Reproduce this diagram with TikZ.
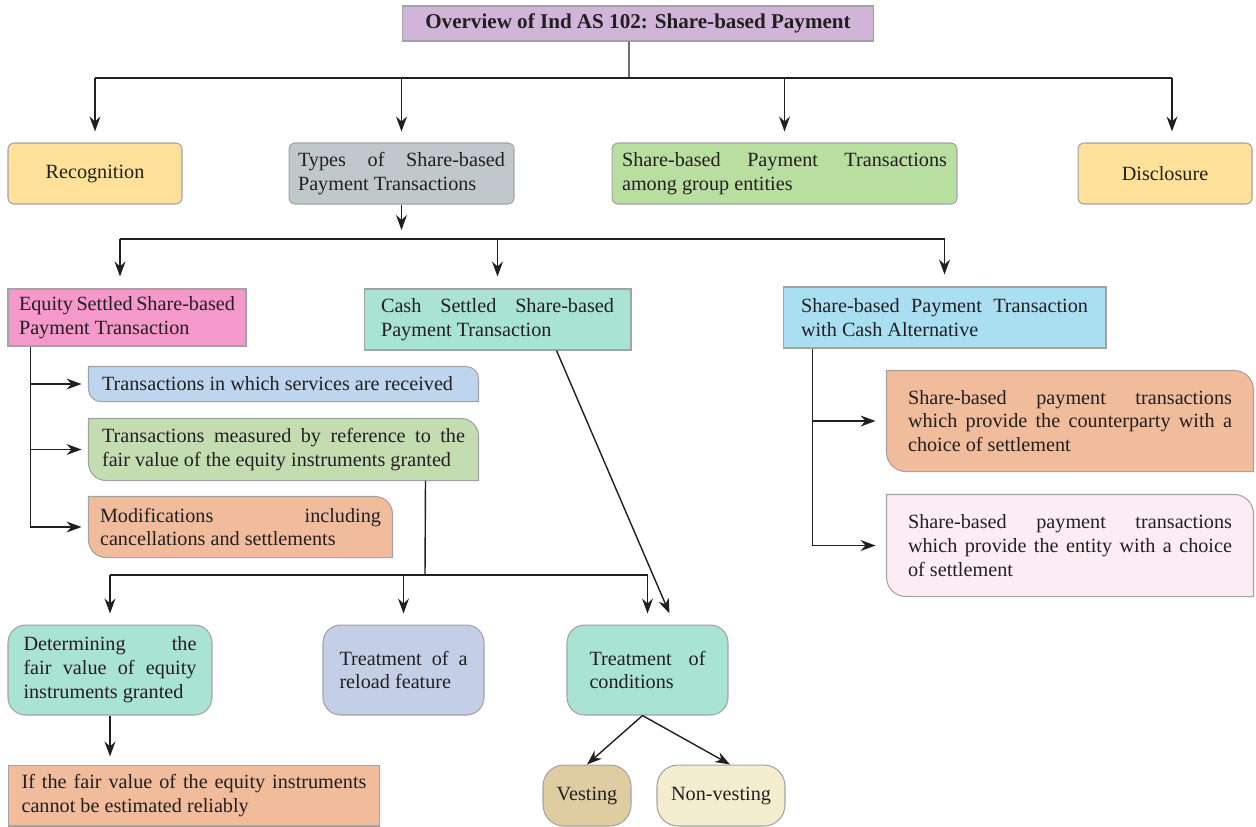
\documentclass[tikz,border=0pt]{standalone}
\usepackage{fontspec}
\setmainfont{Liberation Serif}
\usepackage{xcolor}
\usepackage{tikz}
\usetikzlibrary{arrows.meta,positioning,calc,backgrounds}
\definecolor{inkGray}{HTML}{231F20}
\definecolor{edgeGray}{HTML}{A3A3A3}
\definecolor{titleLilac}{HTML}{D1B5D8}
\definecolor{sandYellow}{HTML}{FFE199}
\definecolor{slateGray}{HTML}{C1C8CC}
\definecolor{leafGreen}{HTML}{B9DFA0}
\definecolor{rosePink}{HTML}{F598CB}
\definecolor{mintTeal}{HTML}{A9E3D4}
\definecolor{skyBlue}{HTML}{A9DFF0}
\definecolor{svcBlue}{HTML}{BDD5EE}
\definecolor{measGreen}{HTML}{C3DDB0}
\definecolor{peach}{HTML}{F0BC9C}
\definecolor{blushPink}{HTML}{FBEDF3}
\definecolor{lavBlue}{HTML}{C4CFE7}
\definecolor{tanBrown}{HTML}{DFCCA0}
\definecolor{creamYellow}{HTML}{F4EDCF}
\newcommand{\boxfont}{\fontsize{11.5}{13.6}\selectfont}
\newcommand{\halfround}[3]{%
  \draw[draw=edgeGray, line width=0.6pt, fill=#2] (#1.north west) -- ([xshift=-#3]#1.north east)
    arc[start angle=90, end angle=0, radius=#3] -- (#1.south east) -- ([xshift=#3]#1.south west)
    arc[start angle=270, end angle=180, radius=#3] -- cycle;}
\tolerance=9999
\hyphenpenalty=10000
\emergencystretch=2em

\begin{document}
\begin{tikzpicture}[x=0.02cm, y=-0.02cm, >={Stealth[length=8.5pt,width=6.2pt]},
  box/.style={draw=edgeGray, line width=0.6pt, text=inkGray, font=\boxfont, inner ysep=0pt, align=justify},
  halfbox/.style={box, draw=none},
  line/.style={draw=inkGray, line width=0.8pt},
  arr/.style={line, ->}]
\useasboundingbox (0,0) rectangle (1256,826);
% --- title and first level ---
\node[box, fill=titleLilac, minimum width=9.44cm, minimum height=0.7cm, font=\fontsize{12}{14}\selectfont\bfseries, align=center] (title) at (638,23.5) {Overview of Ind AS 102: Share-based Payment};
\node[box, rounded corners=3.5pt, fill=sandYellow, minimum width=3.48cm, minimum height=1.22cm, align=center] (recog) at (95,173.5) {Recognition};
\node[box, rounded corners=3.5pt, fill=slateGray, text width=4.14cm, inner xsep=0.18cm, minimum height=1.22cm] (types) at (401.5,173.5) {Types of Share-based\linebreak Payment Transactions};
\node[box, rounded corners=3.5pt, fill=leafGreen, text width=6.5cm, inner xsep=0.2cm, minimum height=1.22cm] (group) at (784.5,173.5) {Share-based Payment Transactions\linebreak among group entities};
\node[box, rounded corners=3.5pt, fill=sandYellow, minimum width=3.48cm, minimum height=1.22cm, align=center] (discl) at (1165,173.5) {Disclosure};
% --- types of transactions ---
\node[box, fill=rosePink, text width=4.32cm, inner xsep=0.22cm, minimum height=1.14cm] (equity) at (127,317.5) {Equity Settled Share-based\linebreak Payment Transaction};
\node[box, fill=mintTeal, text width=4.66cm, inner xsep=0.34cm, minimum height=1.22cm] (cash) at (497.5,319.5) {Cash Settled Share-based\linebreak Payment Transaction};
\node[box, fill=skyBlue, text width=5.74cm, inner xsep=0.36cm, minimum height=1.22cm] (cashalt) at (944.5,317.5) {Share-based Payment Transaction\linebreak with Cash Alternative};
% --- equity settled items ---
\node[halfbox, text width=7.26cm, inner xsep=0.26cm, minimum height=0.68cm] (svc) at (283.5,384) {Transactions in which services are received};
\node[halfbox, text width=7.26cm, inner xsep=0.26cm, minimum height=1.22cm] (meas) at (283.5,449.5) {Transactions measured by reference to the\linebreak fair value of the equity instruments granted};
\node[halfbox, text width=5.62cm, inner xsep=0.22cm, minimum height=1.2cm] (modif) at (240.5,527) {Modifications including\linebreak cancellations and settlements};
% --- cash alternative items ---
\node[halfbox, text width=6.48cm, inner xsep=0.42cm, minimum height=2.0cm] (cparty) at (1070,421) {Share-based payment transactions\linebreak which provide the counterparty with a\linebreak choice of settlement};
\node[halfbox, text width=6.48cm, inner xsep=0.42cm, minimum height=2.02cm] (entity) at (1070,545.5) {Share-based payment transactions\linebreak which provide the entity with a choice\linebreak of settlement};
% --- measurement ---
\node[box, rounded corners=10pt, fill=mintTeal, text width=3.46cm, inner xsep=0.31cm, minimum height=1.8cm] (fairval) at (110,670) {Determining the\linebreak fair value of equity\linebreak instruments granted};
\node[box, rounded corners=10pt, fill=lavBlue, text width=2.56cm, inner xsep=0.33cm, minimum height=1.8cm] (reload) at (403.5,670) {Treatment of a\linebreak reload feature};
\node[box, rounded corners=10pt, fill=mintTeal, text width=2.32cm, inner xsep=0.45cm, minimum height=1.8cm] (cond) at (647.5,670) {Treatment of\linebreak conditions};
\node[box, fill=peach, text width=6.9cm, inner xsep=0.27cm, minimum height=1.22cm] (unrel) at (194,795.5) {If the fair value of the equity instruments\linebreak cannot be estimated reliably};
\node[box, rounded corners=12pt, fill=tanBrown, minimum width=1.76cm, minimum height=1.22cm, align=center] (vest) at (587,795.5) {Vesting};
\node[box, rounded corners=12pt, fill=creamYellow, minimum width=2.56cm, minimum height=1.22cm, align=center] (nonvest) at (721,795.5) {Non-vesting};
% half rounded boxes
\begin{scope}[on background layer]
  \halfround{svc}{svcBlue}{7pt}
  \halfround{meas}{measGreen}{10pt}
  \halfround{modif}{peach}{10pt}
  \halfround{cparty}{peach}{11pt}
  \halfround{entity}{blushPink}{11pt}
\end{scope}
% --- connectors: top level ---
\coordinate (topbus) at (629,78);
\draw[line] ([xshift=-0.18cm]title.south) -- (topbus);
\draw[line, line width=1.1pt] (recog.north |- topbus) -- ($(discl.north |- topbus)+(7,0)$);
\foreach \n/\dx in {recog/0, types/0, group/0, discl/7}
  \draw[arr, shorten >=0.22cm] ($(\n.north |- topbus)+(\dx,0)$) -- ($(\n.north)+(\dx,0)$);
% types of transactions
\coordinate (typebus) at (401.5,239);
\draw[arr, shorten >=0.18cm] (types.south) -- (typebus);
\draw[line, line width=1.1pt] ($(equity.north |- typebus)+(-7,0)$) -- (cashalt.north |- typebus);
\foreach \n/\dx in {equity/-7, cash/0, cashalt/0}
  \draw[arr, shorten >=0.24cm] ($(\n.north |- typebus)+(\dx,0)$) -- ($(\n.north)+(\dx,0)$);
% equity settled branches
\foreach \n in {svc,meas,modif}
  \draw[arr, shorten >=0.14cm] ($(equity.south west)+(23,0)$) |- (\n.west);
% measurement bus
\coordinate (grantbus) at (425,575);
\draw[line] ($(meas.south east)+(-53,0)$) -- (grantbus);
\draw[line] (fairval.north |- grantbus) -- (cond.north |- grantbus);
\foreach \n in {fairval,reload,cond}
  \draw[arr, shorten >=0.22cm] (\n.north |- grantbus) -- (\n.north);
\draw[arr] ($(cash.south east)+(-75,0)$) -- ($(cond.north)+(22,-11)$);
% cash alternative branches
\foreach \n in {cparty,entity}
  \draw[arr, shorten >=0.22cm] ($(cashalt.south west)+(30,0)$) |- (\n.west);
% lower level
\draw[arr, shorten >=0.16cm] (fairval.south) -- (fairval.south |- unrel.north);
\draw[arr] ($(cond.south)+(-5,0)$) -- (vest.north);
\draw[arr] ($(cond.south)+(-5,0)$) -- ($(nonvest.north)+(9,0)$);
\end{tikzpicture}
\end{document}
